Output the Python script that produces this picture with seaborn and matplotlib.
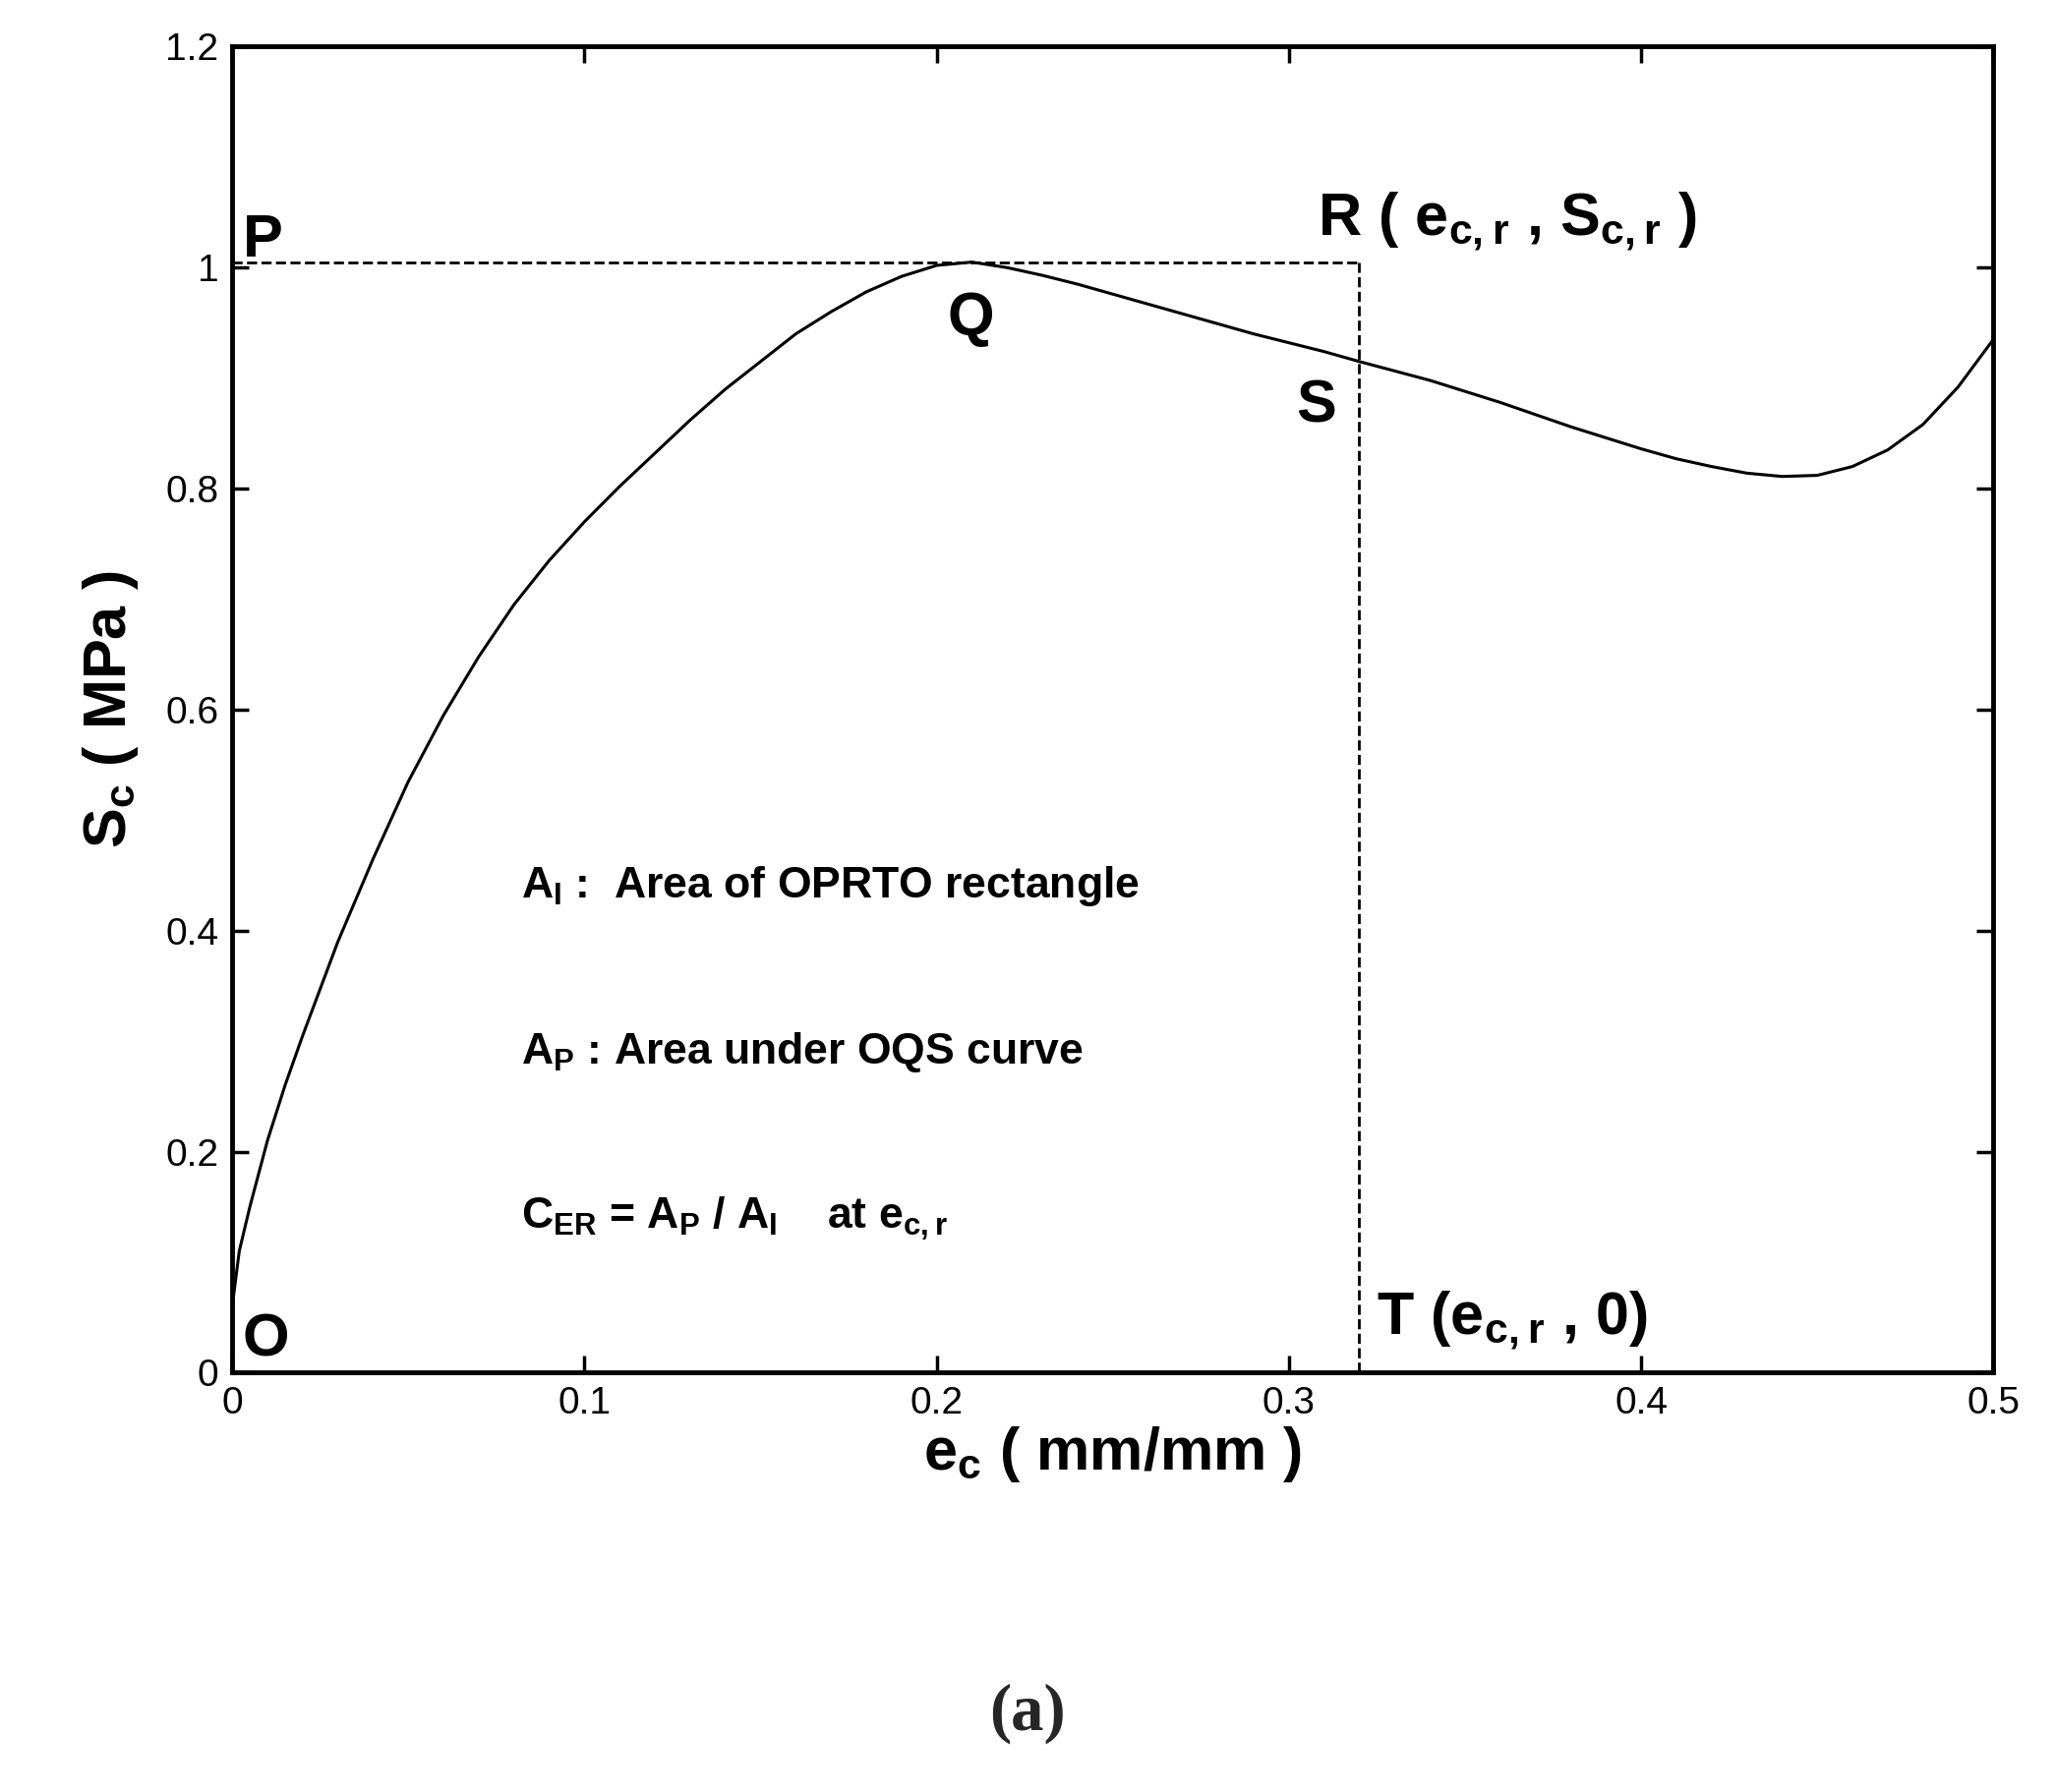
import matplotlib
matplotlib.use('Agg')
import matplotlib.pyplot as plt
import seaborn as sns
import pandas as pd

strain = [0, 0.002, 0.005, 0.01, 0.015, 0.02, 0.03, 0.04, 0.05, 0.06, 0.07, 0.08, 0.09, 0.10,
          0.11, 0.12, 0.13, 0.14, 0.15, 0.16, 0.17, 0.18, 0.19, 0.20, 0.21, 0.22, 0.23,
          0.24, 0.25, 0.26, 0.27, 0.28, 0.29, 0.30, 0.31, 0.32, 0.34, 0.36, 0.38, 0.40,
          0.41, 0.42, 0.43, 0.44, 0.45, 0.46, 0.47, 0.48, 0.49, 0.50]
stress = [0.06, 0.11, 0.15, 0.21, 0.26, 0.305, 0.39, 0.465, 0.535, 0.595, 0.648, 0.695, 0.735,
          0.77, 0.802, 0.832, 0.862, 0.89, 0.915, 0.94, 0.96, 0.978, 0.992, 1.002, 1.005, 1.0,
          0.993, 0.985, 0.976, 0.967, 0.958, 0.949, 0.94, 0.932, 0.924, 0.915, 0.898, 0.878,
          0.856, 0.836, 0.827, 0.82, 0.814, 0.811, 0.812, 0.82, 0.835, 0.858, 0.892, 0.935]
e_r = 0.32
s_r = 1.005

sns.set_style('ticks')
plt.rcParams['font.family'] = ['Liberation Sans', 'DejaVu Sans']
plt.rcParams['mathtext.fontset'] = 'custom'
plt.rcParams['mathtext.bf'] = 'Liberation Sans:bold'

fig = plt.figure(figsize=(20.9, 18.23), dpi=100)
ax = fig.add_axes([0.113, 0.234, 0.857, 0.740])
df = pd.DataFrame({'e': strain, 's': stress})
sns.lineplot(data=df, x='e', y='s', ax=ax, color='black', linewidth=2.2)
ax.plot([0, e_r], [s_r, s_r], 'k--', linewidth=2)
ax.plot([e_r, e_r], [0, s_r], 'k--', linewidth=2)

ax.set_xlim(0, 0.5)
ax.set_ylim(0, 1.2)
ax.set_xticks([0, 0.1, 0.2, 0.3, 0.4, 0.5])
ax.set_xticklabels(['0', '0.1', '0.2', '0.3', '0.4', '0.5'])
ax.set_yticks([0, 0.2, 0.4, 0.6, 0.8, 1.0, 1.2])
ax.set_yticklabels(['0', '0.2', '0.4', '0.6', '0.8', '1', '1.2'])
ax.tick_params(direction='in', length=12, width=2.5, labelsize=28, top=True, right=True, pad=10,
               colors='black')
for sp in ax.spines.values():
    sp.set_linewidth(3.5)
    sp.set_color('black')
    sp.set_visible(True)

ax.set_xlabel(r'e$_\mathbf{c}$ ( mm/mm )', fontsize=44, fontweight='bold', labelpad=2, color='black')
ax.set_ylabel(r'S$_\mathbf{c}$ ( MPa )', fontsize=44, fontweight='bold', labelpad=18, color='black')

kw = dict(fontsize=44, fontweight='bold', color='black')
ax.text(0.003, 1.01, 'P', **kw)
ax.text(0.203, 0.94, 'Q', **kw)
ax.text(0.302, 0.86, 'S', **kw)
ax.text(0.003, 0.015, 'O', **kw)
ax.text(0.308, 1.03, r'R ( e$_\mathbf{c,r}$ , S$_\mathbf{c,r}$ )', **kw)
ax.text(0.325, 0.035, r'T (e$_\mathbf{c,r}$ , 0)', **kw)
kw2 = dict(fontsize=32, fontweight='bold', color='black')
ax.text(0.082, 0.43, r'A$_\mathbf{I}$ :  Area of OPRTO rectangle', **kw2)
ax.text(0.082, 0.28, r'A$_\mathbf{P}$ : Area under OQS curve', **kw2)
ax.text(0.082, 0.13, r'C$_\mathbf{ER}$ = A$_\mathbf{P}$ / A$_\mathbf{I}$    at e$_\mathbf{c,r}$', **kw2)

fig.text(0.5, 0.035, '(a)', ha='center', fontsize=48, fontweight='bold', family='Liberation Serif')
fig.savefig('out.png', dpi=100)
